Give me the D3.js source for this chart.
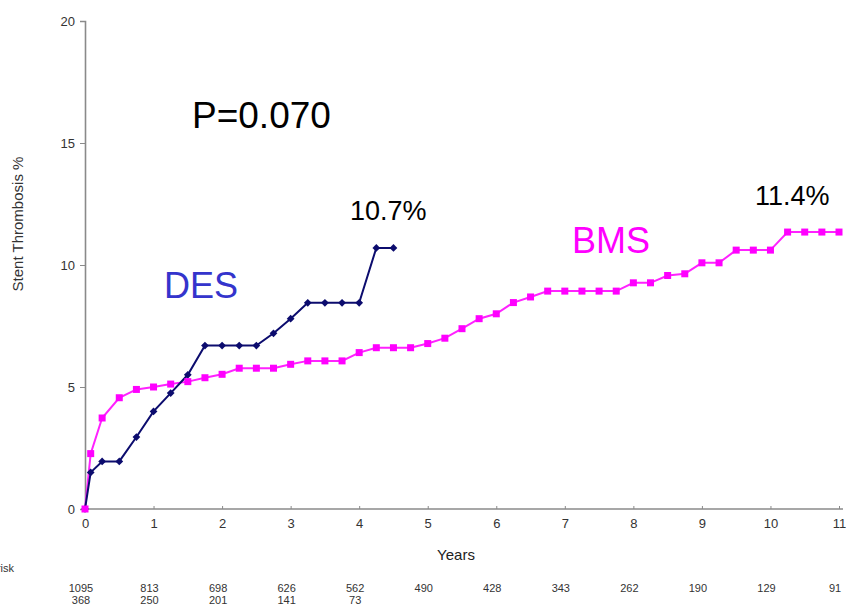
<!DOCTYPE html>
<html>
<head>
<meta charset="utf-8">
<script src="https://cdn.jsdelivr.net/npm/d3@7"></script>
<style>
  body { margin: 0; background: #fff; }
  svg { display: block; font-family: "Liberation Sans", Arial, sans-serif; }
</style>
</head>
<body>
<script>
// ---------------------- data ----------------------
var desYears = [0, 0.083, 0.25, 0.5, 0.75, 1, 1.25, 1.5, 1.75, 2, 2.25, 2.5, 2.75, 3, 3.25, 3.5, 3.75, 4, 4.25, 4.5];
var desRate  = [0, 1.5, 1.95, 1.95, 2.95, 4.0, 4.75, 5.5, 6.7, 6.7, 6.7, 6.7, 7.2, 7.8, 8.45, 8.45, 8.45, 8.45, 10.7, 10.7];

var bmsYears = [0, 0.083, 0.25, 0.5, 0.75, 1, 1.25, 1.5, 1.75, 2, 2.25, 2.5, 2.75, 3, 3.25, 3.5, 3.75, 4, 4.25, 4.5, 4.75,
                5, 5.25, 5.5, 5.75, 6, 6.25, 6.5, 6.75, 7, 7.25, 7.5, 7.75, 8, 8.25, 8.5, 8.75, 9, 9.25, 9.5, 9.75,
                10, 10.25, 10.5, 10.75, 11];
var bmsRate  = [0, 2.27, 3.73, 4.56, 4.9, 5.0, 5.12, 5.22, 5.38, 5.52, 5.77, 5.77, 5.77, 5.93, 6.07, 6.07, 6.07, 6.41, 6.61, 6.61, 6.61,
                6.78, 7.0, 7.39, 7.8, 8.0, 8.46, 8.69, 8.93, 8.93, 8.93, 8.93, 8.93, 9.27, 9.27, 9.57, 9.64, 10.09, 10.09, 10.61, 10.61,
                10.61, 11.35, 11.35, 11.35, 11.35];

var xTicks = [0, 1, 2, 3, 4, 5, 6, 7, 8, 9, 10, 11];
var yTicks = [0, 5, 10, 15, 20];

var atRiskBms = [1095, 813, 698, 626, 562, 490, 428, 343, 262, 190, 129, 91];
var atRiskDes = [368, 250, 201, 141, 73];

// ---------------------- svg ----------------------
var svg = d3.select("body")
     .append("svg")
     .attr("width", 846)
     .attr("height", 605);

var x = d3.scaleLinear().domain([0, 11]).range([85, 839]);
var y = d3.scaleLinear().domain([0, 20]).range([509, 21]);

// axes
var yAxis = svg.append("g")
     .attr("transform", "translate(85,0)")
     .call(d3.axisLeft(y).tickValues(yTicks).tickSize(5).tickPadding(5));

var xAxis = svg.append("g")
     .attr("transform", "translate(0,509)")
     .call(d3.axisBottom(x).tickValues(xTicks).tickSize(-3).tickPadding(10).tickSizeOuter(0));

[yAxis, xAxis].forEach(function (g) {
  g.select(".domain").attr("stroke", "#8a8a8a").attr("stroke-width", 1.6);
  g.selectAll(".tick line").attr("stroke", "#8a8a8a");
  g.selectAll(".tick text")
     .style("font-size", "13px")
     .style("font-family", "'Liberation Sans', Arial, sans-serif")
     .attr("fill", "#333");
});
xAxis.select(".domain").attr("d", "M85,0H843");

svg.append("text")
     .text("Stent Thrombosis %")
     .attr("transform", "translate(23,224) rotate(-90)")
     .attr("text-anchor", "middle")
     .style("font-size", "15px")
     .attr("fill", "#333");

svg.append("text")
     .text("Years")
     .attr("x", 456)
     .attr("y", 560)
     .attr("text-anchor", "middle")
     .style("font-size", "15px")
     .attr("fill", "#222");

// ---------------------- series ----------------------
var line = d3.line()
     .x(function (d) { return x(d[0]); })
     .y(function (d) { return y(d[1]); });

var bms = d3.zip(bmsYears, bmsRate);
var des = d3.zip(desYears, desRate);

svg.append("path")
     .datum(bms)
     .attr("d", line)
     .attr("fill", "none")
     .attr("stroke", "#ff22ff")
     .attr("stroke-width", 2);

svg.append("path")
     .datum(des)
     .attr("d", line)
     .attr("fill", "none")
     .attr("stroke", "#0c0c6e")
     .attr("stroke-width", 2);

svg.selectAll("path.des-pt")
     .data(des)
     .enter()
     .append("path")
     .attr("class", "des-pt")
     .attr("d", d3.symbol().type(d3.symbolSquare).size(30))
     .attr("transform", function (d) { return "translate(" + x(d[0]) + "," + y(d[1]) + ") rotate(45)"; })
     .attr("fill", "#0c0c6e");

svg.selectAll("rect.bms-pt")
     .data(bms)
     .enter()
     .append("rect")
     .attr("class", "bms-pt")
     .attr("x", function (d) { return x(d[0]) - 3.5; })
     .attr("y", function (d) { return y(d[1]) - 3.5; })
     .attr("width", 7)
     .attr("height", 7)
     .attr("fill", "#ff00ff");

// ---------------------- annotations ----------------------
svg.append("text").text("P=0.070")
     .attr("x", 192).attr("y", 128)
     .style("font-size", "37px")
     .attr("fill", "#000");

svg.append("text").text("DES")
     .attr("x", 164).attr("y", 298)
     .style("font-size", "36px")
     .attr("fill", "#3434cc");

svg.append("text").text("BMS")
     .attr("x", 572).attr("y", 253)
     .style("font-size", "36px")
     .attr("fill", "#ff00ff");

svg.append("text").text("10.7%")
     .attr("x", 350).attr("y", 220)
     .style("font-size", "27px")
     .attr("fill", "#000");

svg.append("text").text("11.4%")
     .attr("x", 755).attr("y", 205)
     .style("font-size", "27px")
     .attr("fill", "#000");

// ---------------------- numbers at risk ----------------------
svg.append("text").text("Number at risk")
     .attr("x", 14).attr("y", 572)
     .attr("text-anchor", "end")
     .style("font-size", "11px")
     .attr("fill", "#333");

svg.selectAll("text.risk-bms")
     .data(atRiskBms)
     .enter()
     .append("text")
     .attr("class", "risk-bms")
     .text(function (d) { return d; })
     .attr("x", function (d, i) { return x(xTicks[i]) - 4; })
     .attr("y", 592)
     .attr("text-anchor", "middle")
     .style("font-size", "11px")
     .style("font-family", "'Liberation Sans Narrow', 'Arial Narrow', sans-serif")
     .attr("fill", "#333");

svg.selectAll("text.risk-des")
     .data(atRiskDes)
     .enter()
     .append("text")
     .attr("class", "risk-des")
     .text(function (d) { return d; })
     .attr("x", function (d, i) { return x(xTicks[i]) - 4; })
     .attr("y", 604)
     .attr("text-anchor", "middle")
     .style("font-size", "11px")
     .style("font-family", "'Liberation Sans Narrow', 'Arial Narrow', sans-serif")
     .attr("fill", "#333");
</script>
</body>
</html>
